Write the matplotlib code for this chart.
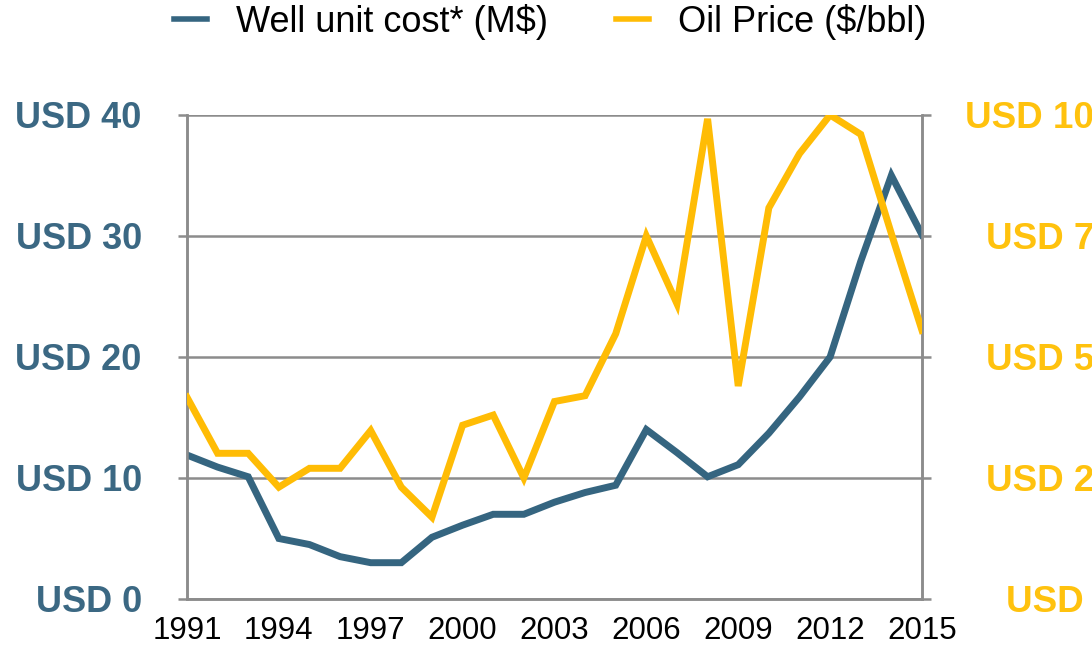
import matplotlib
matplotlib.use("Agg")
import matplotlib.pyplot as plt

plt.rcParams['font.family'] = ['Liberation Sans', 'DejaVu Sans']

# data
years = list(range(1991, 2016))
well_cost = [11.9, 10.9, 10.1, 5.0, 4.5, 3.5, 3.0, 3.0, 5.1, 6.1,
             7.0, 7.0, 8.0, 8.8, 9.4, 14.0, 12.1, 10.1, 11.1, 13.7,
             16.7, 20.0, 27.9, 35.0, 30.1]
oil_price = [41.7, 30.1, 30.1, 23.1, 27.0, 27.0, 34.8, 23.1, 16.9, 35.9,
             38.0, 25.0, 40.8, 42.0, 54.8, 75.0, 61.0, 99.2, 44.0, 80.8,
             92.0, 100.0, 96.0, 75.5, 55.5]

left_ticks = [0, 10, 20, 30, 40]
right_ticks = [0, 25, 50, 75, 100]
x_ticks = list(range(1991, 2016, 3))

blue = '#356580'
yellow = '#FFBC05'
grey = '#8C8C8C'

fig = plt.figure(figsize=(10.92, 6.47), dpi=100)
ax = fig.add_axes([0.1712, 0.0742, 0.6731, 0.7481])
ax2 = ax.twinx()

ax.plot(years, well_cost, color=blue, linewidth=5, solid_joinstyle='miter',
        label='Well unit cost* (M$)', zorder=3)
ax2.plot(years, oil_price, color=yellow, linewidth=5, solid_joinstyle='miter',
         label='Oil Price ($/bbl)', zorder=3)

ax.set_xlim(1991, 2015)
ax.set_ylim(0, 40)
ax2.set_ylim(0, 100)

ax.set_yticks(left_ticks)
ax.set_yticklabels([f'USD {v}' for v in left_ticks])
ax2.set_yticks(right_ticks)
ax2.set_yticklabels([f'USD {v}' for v in right_ticks])
ax.set_xticks(x_ticks)

ax.grid(axis='y', color=grey, linewidth=1.8)
ax.set_axisbelow(True)

for a in (ax, ax2):
    a.spines['top'].set_visible(False)
    for s in ('left', 'right', 'bottom'):
        a.spines[s].set_color(grey)
        a.spines[s].set_linewidth(1.8)

ax.tick_params(axis='y', length=6.5, width=1.8, color=grey, pad=26,
               labelsize=26, labelcolor='#3B6883')
for t in ax.get_yticklabels():
    t.set_fontweight('bold')
ax.tick_params(axis='x', length=0, pad=12.5, labelsize=22.5)

ax2.tick_params(axis='y', length=6.5, width=1.8, color=grey, pad=132,
                labelsize=26.5, labelcolor='#FFC20E')
for t in ax2.get_yticklabels():
    t.set_fontweight('bold')
    t.set_horizontalalignment('right')

h1, l1 = ax.get_legend_handles_labels()
h2, l2 = ax2.get_legend_handles_labels()
leg = fig.legend(h1 + h2, l1 + l2, loc='center', bbox_to_anchor=(0.504, 0.966),
                 ncol=2, frameon=False, fontsize=26, handlelength=0.9,
                 handletextpad=0.8, columnspacing=1.9)
for line in leg.get_lines():
    line.set_linewidth(4)

fig.savefig('out.png', dpi=100)
